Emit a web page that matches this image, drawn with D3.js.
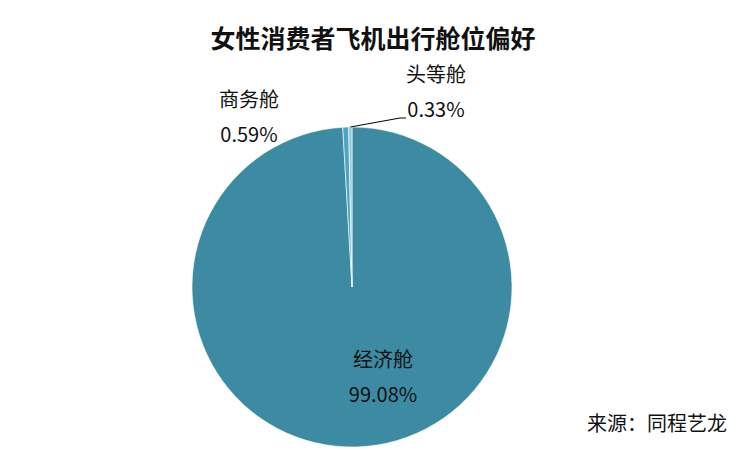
<!DOCTYPE html>
<html>
<head>
<meta charset="utf-8">
<script src="https://cdn.jsdelivr.net/npm/d3@7"></script>
<style>
  body { margin: 0; background: #fff; }
  text { font-family: "Noto Sans CJK SC", "Microsoft YaHei", sans-serif; fill: #111; }
</style>
</head>
<body>
<div id="chart-area"></div>
<script>
const WIDTH = 750;
const HEIGHT = 450;
const CX = 352;
const CY = 287;
const RADIUS = 160;

const categories = ['经济舱', '商务舱', '头等舱'];
const shares = [99.08, 0.59, 0.33];
const colors = ['#3c8ba3', '#4ba6c2', '#8fcadb'];

main();

function main() {
  const data = categories.map((name, i) => ({name, value: shares[i], color: colors[i]}));
  const svg = d3.select('#chart-area').append('svg')
    .attr('width', WIDTH)
    .attr('height', HEIGHT);
  showTitle(svg);
  showPie(svg, data);
}

function showTitle(svg) {
  svg.append('text')
    .attr('x', 373)
    .attr('y', 48)
    .attr('text-anchor', 'middle')
    .attr('font-size', 25)
    .attr('font-weight', 'bold')
    .text('女性消费者飞机出行舱位偏好');

  svg.append('text')
    .attr('x', 727)
    .attr('y', 431)
    .attr('text-anchor', 'end')
    .attr('font-size', 20)
    .text('来源：同程艺龙');
}

function showPie(svg, data) {
  const pie = d3.pie().sort(null).value(d => d.value);
  const arc = d3.arc().innerRadius(0).outerRadius(RADIUS);
  const arcs = pie(data);

  const g = svg.append('g')
    .attr('transform', `translate(${ CX }, ${ CY })`);

  g.selectAll('path')
    .data(arcs)
    .enter()
    .append('path')
    .attr('d', arc)
    .attr('fill', d => d.data.color)
    .attr('stroke', '#fff')
    .attr('stroke-width', 0.6);

  // label positions relative to centre (economy inside, small ones outside)
  const labelPos = {
    '经济舱': [31, 80],
    '商务舱': [-103, -180],
    '头等舱': [84, -205],
  };

  arcs.forEach(a => {
    const [lx, ly] = labelPos[a.data.name];
    g.append('text')
      .attr('x', lx)
      .attr('y', ly)
      .attr('text-anchor', 'middle')
      .attr('font-size', 20)
      .text(a.data.name);
    g.append('text')
      .attr('x', lx)
      .attr('y', ly + 35)
      .attr('text-anchor', 'middle')
      .attr('font-size', 20)
      .text(`${ a.data.value.toFixed(2) }%`);
  });

  // leader line for first class
  const first = arcs[2];
  const mid = (first.startAngle + first.endAngle) / 2;
  const px = Math.sin(mid) * RADIUS;
  const py = -Math.cos(mid) * RADIUS;
  g.append('polyline')
    .attr('points', `${ px },${ py } ${ 48 },${ -169 } ${ 54 },${ -169 }`)
    .attr('fill', 'none')
    .attr('stroke', '#000')
    .attr('stroke-width', 1);
}
</script>
</body>
</html>
